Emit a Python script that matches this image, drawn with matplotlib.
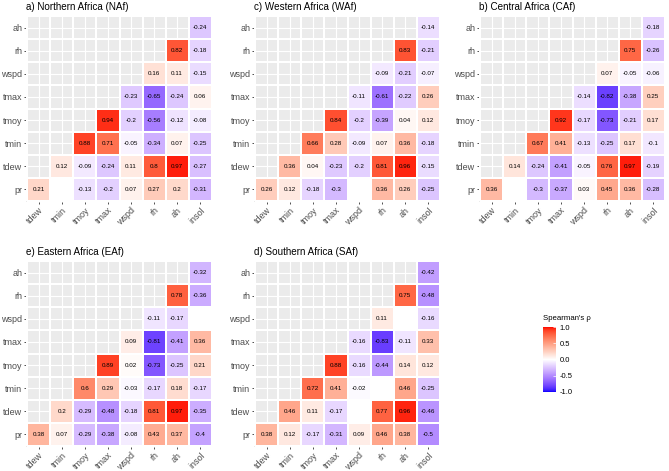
import numpy as np
import matplotlib
matplotlib.use("Agg")
import matplotlib.pyplot as plt
from matplotlib.colors import ListedColormap, Normalize

plt.rcParams['font.family'] = ['Liberation Sans', 'DejaVu Sans']
plt.rcParams['axes.unicode_minus'] = False

row_vars = ["pr", "tdew", "tmin", "tmoy", "tmax", "wspd", "rh", "ah"]
col_vars = ["tdew", "tmin", "tmoy", "tmax", "wspd", "rh", "ah", "insol"]
nan = np.nan

# each row lists values for columns starting at the row's own index
naf = [
    [0.21, nan, -0.13, -0.2, 0.07, 0.27, 0.2, -0.31],
    [0.12, -0.09, -0.24, 0.11, 0.8, 0.97, -0.27],
    [0.88, 0.71, -0.05, -0.34, 0.07, -0.25],
    [0.94, -0.2, -0.56, -0.12, -0.08],
    [-0.23, -0.65, -0.24, 0.06],
    [0.16, 0.11, -0.15],
    [0.82, -0.18],
    [-0.24],
]
waf = [
    [0.26, 0.12, -0.18, -0.3, nan, 0.36, 0.26, -0.25],
    [0.36, 0.04, -0.23, -0.2, 0.81, 0.96, -0.15],
    [0.66, 0.28, -0.09, 0.07, 0.36, -0.18],
    [0.84, -0.2, -0.39, 0.04, 0.12],
    [-0.11, -0.61, -0.22, 0.26],
    [-0.09, -0.21, -0.07],
    [0.83, -0.21],
    [-0.14],
]
caf = [
    [0.36, nan, -0.3, -0.37, 0.03, 0.45, 0.36, -0.28],
    [0.14, -0.24, -0.41, -0.05, 0.76, 0.97, -0.19],
    [0.67, 0.41, -0.13, -0.25, 0.17, -0.1],
    [0.92, -0.17, -0.73, -0.21, 0.17],
    [-0.14, -0.82, -0.38, 0.25],
    [0.07, -0.05, -0.06],
    [0.75, -0.26],
    [-0.18],
]
eaf = [
    [0.38, 0.07, -0.29, -0.38, -0.08, 0.43, 0.37, -0.4],
    [0.2, -0.29, -0.48, -0.18, 0.81, 0.97, -0.35],
    [0.6, 0.29, -0.03, -0.17, 0.18, -0.17],
    [0.89, 0.02, -0.73, -0.25, 0.21],
    [0.09, -0.81, -0.41, 0.36],
    [-0.11, -0.17, nan],
    [0.78, -0.36],
    [-0.32],
]
saf = [
    [0.38, 0.12, -0.17, -0.31, 0.09, 0.46, 0.38, -0.5],
    [0.46, 0.11, -0.17, nan, 0.77, 0.96, -0.46],
    [0.72, 0.41, -0.02, nan, 0.46, -0.25],
    [0.88, -0.16, -0.44, 0.14, 0.12],
    [-0.16, -0.83, -0.11, 0.33],
    [0.11, nan, -0.16],
    [0.75, -0.48],
    [-0.42],
]

titles = ["a) Northern Africa (NAf)", "c) Western Africa (WAf)", "b) Central Africa (CAf)",
          "e) Eastern Africa (EAf)", "d) Southern Africa (SAf)"]
datasets = [naf, waf, caf, eaf, saf]

# --- Lab interpolation like ggplot's scale_fill_gradient2 ---
M = np.array([[0.4124564, 0.3575761, 0.1804375],
              [0.2126729, 0.7151522, 0.0721750],
              [0.0193339, 0.1191920, 0.9503041]])
Minv = np.linalg.inv(M)
WP = np.array([0.95047, 1.0, 1.08883])

def rgb2lab(rgb):
    c = np.asarray(rgb, float)
    lin = np.where(c <= 0.04045, c / 12.92, ((c + 0.055) / 1.055) ** 2.4)
    xyz = M @ lin / WP
    f = np.where(xyz > 216/24389, np.cbrt(xyz), (24389/27 * xyz + 16) / 116)
    return np.array([116 * f[1] - 16, 500 * (f[0] - f[1]), 200 * (f[1] - f[2])])

def lab2rgb(lab):
    L, a, b = lab
    fy = (L + 16) / 116
    fx = fy + a / 500
    fz = fy - b / 200
    f = np.array([fx, fy, fz])
    xyz = np.where(f ** 3 > 216/24389, f ** 3, (116 * f - 16) / (24389/27)) * WP
    lin = Minv @ xyz
    lin = np.clip(lin, 0, 1)
    c = np.where(lin <= 0.0031308, 12.92 * lin, 1.055 * lin ** (1/2.4) - 0.055)
    return np.clip(c, 0, 1)

lab_w = rgb2lab([1, 1, 1])
lab_b = rgb2lab([0, 0, 1])
lab_r = rgb2lab([1, 0, 0])
cols = []
for v in np.linspace(-1, 1, 512):
    if v < 0:
        lab = lab_w + (lab_b - lab_w) * (-v)
    else:
        lab = lab_w + (lab_r - lab_w) * v
    cols.append(lab2rgb(lab))
cmap = ListedColormap(cols)
norm = Normalize(-1, 1)

fig = plt.figure(figsize=(6.69, 4.71), dpi=100)
W, H = 669, 471
boxes = [(26, 15), (254, 15), (479, 15), (26, 260), (254, 260)]
pw, ph = 187, 187

n = len(row_vars)
mesh = None
for (x0, y0), data, title in zip(boxes, datasets, titles):
    ax = fig.add_axes([x0 / W, 1 - (y0 + ph) / H, pw / W, ph / H])
    ax.set_facecolor("#EBEBEB")
    vals = np.full((n, n), nan)
    tri = np.zeros((n, n), bool)
    for i, row in enumerate(data):
        for k, v in enumerate(row):
            j = i + k
            vals[i, j] = v
            tri[i, j] = True
    edges = np.arange(n + 1) - 0.5
    # white background for triangle cells
    ax.pcolormesh(edges, edges, np.ma.masked_where(~tri, np.ones((n, n))),
                  cmap=ListedColormap(["white"]), vmin=0, vmax=1,
                  edgecolors="white", linewidth=0.3, zorder=2)
    mesh = ax.pcolormesh(edges, edges, np.ma.masked_invalid(vals), cmap=cmap, norm=norm,
                         edgecolors="white", linewidth=0.3, zorder=3)
    for i in range(n):
        for j in range(n):
            if tri[i, j] and not np.isnan(vals[i, j]):
                ax.text(j, i, f"{vals[i, j]:g}", ha="center", va="center",
                        fontsize=4.5, color="black", zorder=4)
    ax.set_xlim(-0.56, n - 0.44)
    ax.set_ylim(-0.56, n - 0.44)
    ax.set_xticks(range(n))
    ax.set_xticklabels(col_vars, rotation=45, ha="right", va="top",
                       rotation_mode="anchor")
    ax.set_yticks(range(n))
    ax.set_yticklabels(row_vars)
    ax.tick_params(axis="both", labelsize=6.5, labelcolor="#4D4D4D", color="#333333",
                   length=1.6, width=0.6, pad=1.0)
    ax.grid(True, color="white", linewidth=0.8, zorder=1)
    ax.set_axisbelow(True)
    for s in ax.spines.values():
        s.set_visible(False)
    ax.text(0, 1.015, title, transform=ax.transAxes, fontsize=7.1,
            ha="left", va="bottom", color="black")

cax = fig.add_axes([543 / W, 1 - 392 / H, 13 / W, 65 / H])
cb = fig.colorbar(mesh, cax=cax, ticks=[-1, -0.5, 0, 0.5, 1])
cb.outline.set_visible(False)
cb.ax.set_yticklabels(["-1.0", "-0.5", "0.0", "0.5", "1.0"])
cb.ax.tick_params(labelsize=5.5, length=2, color="white", width=0.5,
                  direction="in", pad=2.5, labelcolor="black")
cax.text(0, 1.07, "Spearman's ρ", transform=cax.transAxes, fontsize=5.6,
         ha="left", va="bottom")

fig.savefig("out.png", dpi=100)
